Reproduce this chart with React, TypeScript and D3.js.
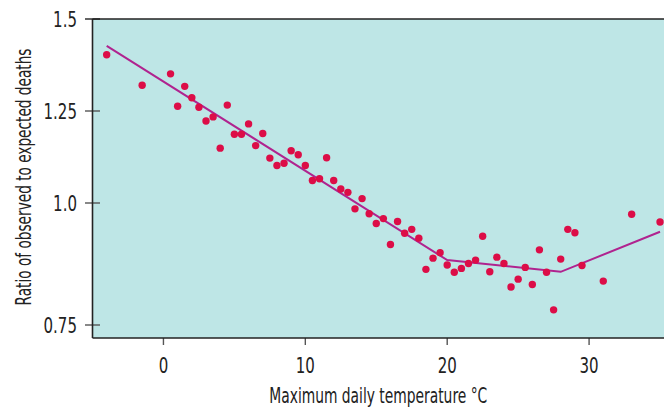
import React, { useLayoutEffect, useRef, useState } from 'react';
import * as d3 from 'd3';

// Observed data: maximum daily temperature (°C) and ratio of observed to expected deaths
const temps = [
  -4, -1.5, 0.5, 1, 1.5, 2, 2.5, 3, 3.5, 4, 4.5, 5, 5.5, 6, 6.5, 7, 7.5, 8, 8.5, 9,
  9.5, 10, 10.5, 11, 11.5, 12, 12.5, 13, 13.5, 14, 14.5, 15, 15.5, 16, 16.5, 17, 17.5, 18,
  18.5, 19, 19.5, 20, 20.5, 21, 21.5, 22, 22.5, 23, 23.5, 24, 24.5, 25, 25.5, 26, 26.5,
  27, 27.5, 28, 28.5, 29, 29.5, 31, 33, 35,
];
const ratios = [
  1.403, 1.32, 1.351, 1.263, 1.317, 1.286, 1.26, 1.223, 1.234, 1.149, 1.266, 1.187, 1.187,
  1.215, 1.156, 1.189, 1.122, 1.102, 1.108, 1.142, 1.131, 1.102, 1.061, 1.066, 1.123, 1.061,
  1.038, 1.029, 0.988, 1.012, 0.978, 0.958, 0.968, 0.915, 0.962, 0.938, 0.946, 0.928, 0.864,
  0.887, 0.898, 0.873, 0.858, 0.866, 0.876, 0.883, 0.932, 0.859, 0.889, 0.876, 0.828, 0.844,
  0.868, 0.833, 0.904, 0.858, 0.781, 0.885, 0.946, 0.939, 0.872, 0.84, 0.977, 0.961,
];

// Fitted piecewise line
const fitTemps = [-4, 20, 28, 35];
const fitRatios = [1.427, 0.883, 0.859, 0.941];

// Axes
const xTicks = [0, 10, 20, 30];
const yTicks = [0.75, 1.0, 1.25, 1.5];
const yTickLabels = ['0.75', '1.0', '1.25', '1.5'];
const xDomain = [-5, 35.28];
const yBottomValue = 0.7234;
const xTitle = 'Maximum daily temperature °C';
const yTitle = 'Ratio of observed to expected deaths';

const FONT = "'DejaVu Sans Condensed', 'DejaVu Sans', sans-serif";
const SQUEEZE = 0.76;

function CondText(props: {
  x: number;
  y: number;
  anchor: 'start' | 'middle' | 'end';
  children: React.ReactNode;
}) {
  return (
    <text
      transform={`translate(${props.x},${props.y}) scale(${SQUEEZE},1)`}
      textAnchor={props.anchor}
      fontSize={22}
      fill="#222"
      style={{ fontStretch: 'condensed' }}
    >
      {props.children}
    </text>
  );
}

// Text squeezed horizontally so that its advance equals `width`
function FitText(props: { x: number; y: number; rotate: number; width: number; text: string }) {
  const ref = useRef<SVGTextElement>(null);
  const [sx, setSx] = useState(0.62);
  useLayoutEffect(() => {
    if (ref.current) {
      const len = ref.current.getComputedTextLength();
      if (len > 0) setSx(props.width / len);
    }
  }, [props.width, props.text]);
  return (
    <text
      ref={ref}
      transform={`translate(${props.x},${props.y}) rotate(${props.rotate}) scale(${sx},1)`}
      textAnchor="middle"
      fontSize={22}
      fill="#222"
      style={{ fontStretch: 'condensed' }}
    >
      {props.text}
    </text>
  );
}

export default function App() {
  const W = 664;
  const H = 407;
  const x = d3.scaleLinear().domain(xDomain).range([92.5, 664]);
  const y = d3.scaleLinear().domain(yTicks).range([325, 203, 111, 19]);

  const left = x(xDomain[0]);
  const right = x(xDomain[1]);
  const top = y(1.5);
  const bottom = y(yBottomValue);

  const pts = temps.map((t, i) => ({ t, r: ratios[i] }));
  const fit = fitTemps.map((t, i) => ({ t, r: fitRatios[i] }));
  const line = d3
    .line<{ t: number; r: number }>()
    .x((d) => x(d.t))
    .y((d) => y(d.r));

  return (
    <svg
      width={W}
      height={H}
      viewBox={`0 0 ${W} ${H}`}
      style={{ position: 'absolute', left: 0, top: 0, background: '#fff' }}
      fontFamily={FONT}
    >
      <rect x={left} y={top} width={right - left} height={bottom - top} fill="#bee6e6" />

      {/* y ticks */}
      {yTicks.map((v, i) => (
        <g key={'yt' + i}>
          <line x1={85} x2={100} y1={y(v)} y2={y(v)} stroke={i === 3 ? '#222' : '#555'} strokeWidth={1.4} />
          <CondText x={77} y={y(v) + 8} anchor="end">
            {yTickLabels[i]}
          </CondText>
        </g>
      ))}

      {/* x ticks */}
      {xTicks.map((v) => (
        <g key={'xt' + v}>
          <line x1={x(v)} x2={x(v)} y1={bottom} y2={bottom + 7} stroke="#555" strokeWidth={1.4} />
          <CondText x={x(v)} y={373} anchor="middle">
            {v}
          </CondText>
        </g>
      ))}

      {/* frame */}
      <line x1={left} x2={right} y1={top} y2={top} stroke="#222" strokeWidth={1.6} />
      <line x1={left} x2={right} y1={bottom} y2={bottom} stroke="#222" strokeWidth={1.6} />
      <line x1={left} x2={left} y1={top} y2={bottom} stroke="#222" strokeWidth={1.6} />

      {/* fitted line */}
      <path d={line(fit) || ''} fill="none" stroke="#b0238f" strokeWidth={2} />

      {/* points */}
      {pts.map((d, i) => (
        <circle key={'p' + i} cx={x(d.t)} cy={y(d.r)} r={3.7} fill="#dc0d47" />
      ))}

      {/* axis titles */}
      <FitText x={(left + right) / 2} y={403} rotate={0} width={218} text={xTitle} />
      <FitText x={31} y={177} rotate={-90} width={257} text={yTitle} />
    </svg>
  );
}
